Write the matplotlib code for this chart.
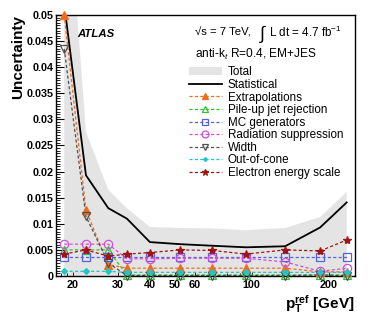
import matplotlib
matplotlib.use("Agg")
import matplotlib.pyplot as plt
from matplotlib.ticker import FixedLocator, FixedFormatter, MultipleLocator, NullFormatter
from matplotlib.patches import Patch
from matplotlib.lines import Line2D

# Data
pt = [18.5, 22.5, 27.5, 32.5, 40, 52.5, 70, 95, 135, 185, 235]
total = [0.083, 0.0276, 0.0165, 0.0130, 0.0094, 0.0092, 0.0091, 0.0088, 0.0092, 0.0113, 0.0161]
stat = [0.052, 0.0193, 0.0130, 0.0110, 0.0065, 0.0061, 0.0058, 0.0055, 0.0057, 0.0093, 0.0141]
extrap = [0.050, 0.0126, 0.0022, 0.0015, 0.0015, 0.0015, 0.0015, 0.0015, 0.0015, 0.0008, 0.0008]
pileup = [0.0050, 0.0050, 0.0050, 0.0002, 0.0002, 0.0002, 0.0002, 0.0002, 0.0002, 0.0002, 0.0002]
mcgen = [0.0036, 0.0036, 0.0036, 0.0036, 0.0036, 0.0036, 0.0036, 0.0036, 0.0036, 0.0036, 0.0036]
radiation = [0.0061, 0.0061, 0.0061, 0.0033, 0.0033, 0.0034, 0.0034, 0.0034, 0.0027, 0.0009, 0.0015]
width = [0.0435, 0.0114, 0.0025, 0.0001, 0.0001, 0.0001, 0.0001, 0.0001, 0.0001, 0.0002, 0.0001]
outcone = [0.0009, 0.0009, 0.0009, 0.0007, 0.0007, 0.0007, 0.0007, 0.0007, 0.0007, 0.0007, 0.0007]
ees = [0.0042, 0.0050, 0.0038, 0.0042, 0.0045, 0.0050, 0.0049, 0.0042, 0.0050, 0.0048, 0.0069]

xtick_vals = [20, 30, 40, 50, 60, 100, 200]
xtick_labels = ["20", "30", "40", "50", "60", "100", "200"]

plt.rcParams["font.family"] = ["Liberation Sans", "DejaVu Sans"]
plt.rcParams["mathtext.fontset"] = "custom"
plt.rcParams["mathtext.rm"] = "Liberation Sans"
plt.rcParams["mathtext.it"] = "Liberation Sans:italic"
plt.rcParams["mathtext.bf"] = "Liberation Sans:bold"

fig = plt.figure(figsize=(3.74, 3.18), dpi=100)
ax = fig.add_axes([0.150, 0.132, 0.799, 0.821])

# Total band and statistical line
ax.fill_between(pt, 0, total, color="#e4e4e4", lw=0)
ax.plot(pt, stat, color="black", lw=1.3)

dash = (0, (2.5, 1.8))
# (values, label, color, marker, facecolor, size)
series = [
    (extrap, "Extrapolations", "#f26b1d", "^", "#f26b1d", 5.5),
    (pileup, "Pile-up jet rejection", "#2bc42b", "^", "none", 5.5),
    (mcgen, "MC generators", "#5461e0", "s", "none", 5.5),
    (radiation, "Radiation suppression", "#d24fdc", "o", "none", 6),
    (width, "Width", "#505050", "v", "none", 5.5),
    (outcone, "Out-of-cone", "#1fc6c6", "D", "#1fc6c6", 3),
    (ees, "Electron energy scale", "#a01414", "*", "#a01414", 6),
]
handles = [Patch(facecolor="#e4e4e4", edgecolor="none", label="Total"),
           Line2D([], [], color="black", lw=1.3, label="Statistical")]
for vals, lab, col, mk, fc, ms in series:
    ax.plot(pt, vals, color=col, lw=0.9, ls=dash)
    ax.plot(pt, vals, ls="none", marker=mk, ms=ms, mfc=fc, mec=col, mew=0.9, clip_on=False, zorder=3)
    handles.append(Line2D([], [], color=col, lw=0.9, ls=dash, marker=mk, ms=ms - 1,
                          mfc=fc, mec=col, mew=0.9, label=lab))

ax.set_xscale("log")
ax.set_xlim(17.2, 253)
ax.set_ylim(0, 0.05)

ax.xaxis.set_major_locator(FixedLocator(xtick_vals))
ax.xaxis.set_major_formatter(FixedFormatter(xtick_labels))
ax.xaxis.set_minor_locator(FixedLocator([18, 19, 70, 80, 90]))
ax.xaxis.set_minor_formatter(NullFormatter())
ax.yaxis.set_major_locator(MultipleLocator(0.005))
ax.yaxis.set_minor_locator(MultipleLocator(0.0005))
ax.yaxis.set_major_formatter(matplotlib.ticker.FuncFormatter(lambda v, p: "0" if v == 0 else ("%g" % round(v, 4))))

ax.tick_params(axis="both", which="both", direction="in", top=False, right=False)
ax.tick_params(axis="y", which="major", length=6, width=0.8, labelsize=7.8, pad=2)
ax.tick_params(axis="y", which="minor", length=3, width=0.6)
ax.tick_params(axis="x", which="major", length=3, width=0.6, labelsize=7.8, pad=3)
ax.tick_params(axis="x", which="minor", length=2, width=0.6)
for lab in ax.get_xticklabels() + ax.get_yticklabels():
    lab.set_fontweight("bold")
for s in ax.spines.values():
    s.set_linewidth(1.0)

ax.set_ylabel("Uncertainty", fontsize=11, fontweight="bold", loc="top", labelpad=1)
ax.set_xlabel(r"$\mathbf{p}_{\mathbf{T}}^{\mathbf{ref}}$ [GeV]", fontsize=11,
              fontweight="bold", loc="right", labelpad=2)

ax.text(0.070, 0.927, "ATLAS", transform=ax.transAxes, fontsize=8.2,
        fontweight="bold", fontstyle="italic", va="center")
ax.text(0.465, 0.935, "\u221as = 7 TeV,", transform=ax.transAxes, fontsize=8.2, va="center")
ax.text(0.680, 0.928, r"$\int$", transform=ax.transAxes, fontsize=13, va="center")
ax.text(0.714, 0.935, r"L dt = 4.7 fb$^{-1}$", transform=ax.transAxes, fontsize=8.4, va="center")
ax.text(0.465, 0.847, r"anti-k$_{t}$ R=0.4, EM+JES", transform=ax.transAxes,
        fontsize=8.6, va="center")

ax.legend(handles=handles, loc="upper left", bbox_to_anchor=(0.445, 0.803),
          frameon=False, fontsize=8.4, handlelength=2.8, handletextpad=0.5,
          labelspacing=0.05, borderpad=0, borderaxespad=0)

fig.savefig("out.png", dpi=100)
